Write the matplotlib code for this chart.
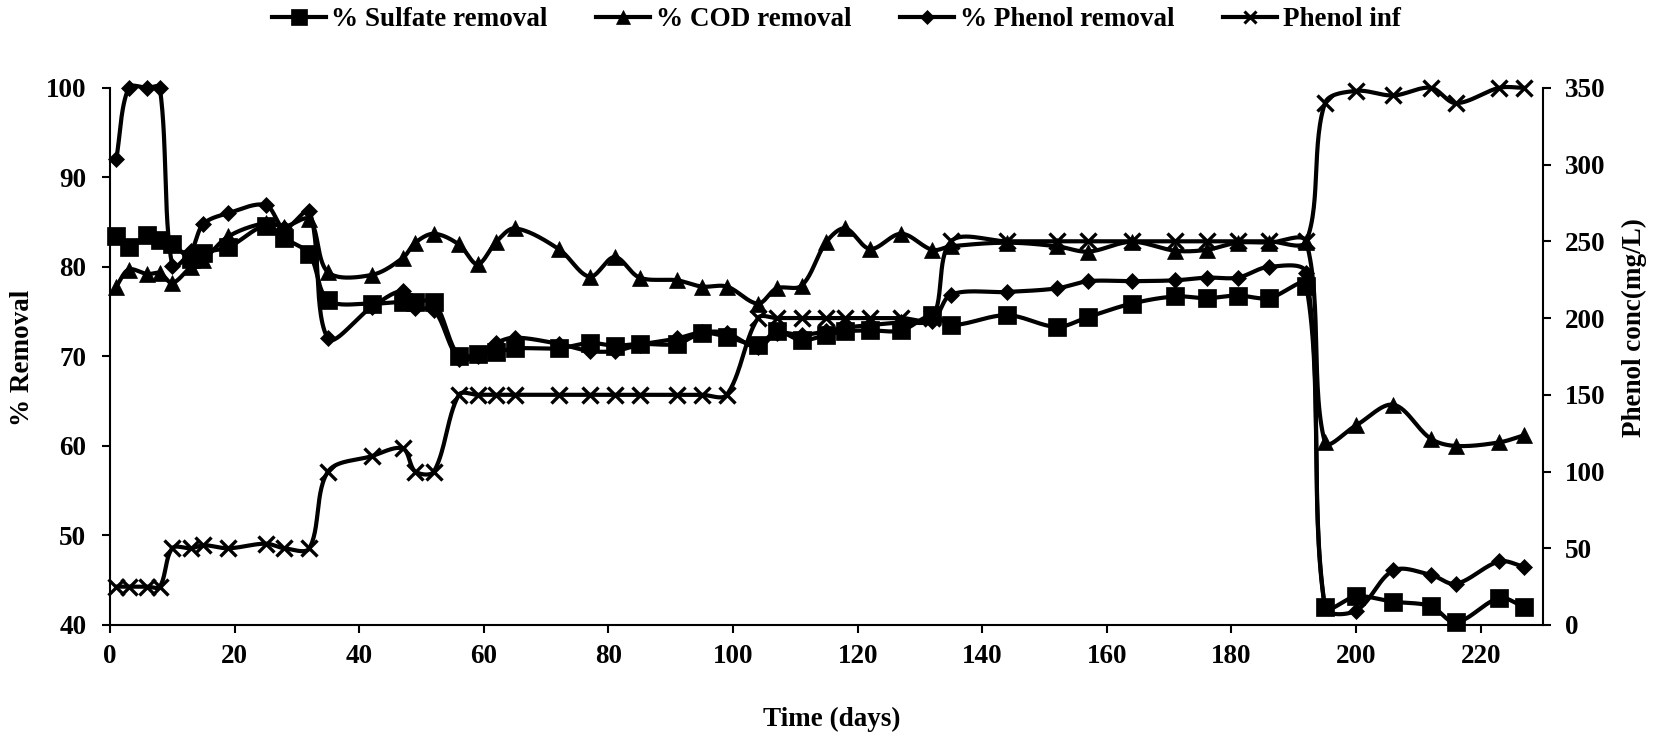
import numpy as np
import matplotlib
matplotlib.use("Agg")
import matplotlib.pyplot as plt
from matplotlib.lines import Line2D

# Sampling days
days = [1, 3, 6, 8, 10, 13, 15, 19, 25, 28, 32, 35, 42, 47, 49, 52, 56, 59, 62, 65,
        72, 77, 81, 85, 91, 95, 99, 104, 107, 111, 115, 118, 122, 127, 132, 135,
        144, 152, 157, 164, 171, 176, 181, 186, 192, 195, 200, 206, 212, 216, 223, 227]

sulfate_removal = [83.5, 82.2, 83.6, 83.0, 82.6, 80.9, 81.6, 82.2, 84.6, 83.2, 81.4, 76.3,
                   75.9, 76.1, 76.1, 76.1, 70.0, 70.3, 70.5, 70.9, 70.9, 71.5, 71.2, 71.4,
                   71.4, 72.6, 72.2, 71.3, 72.8, 71.8, 72.4, 72.8, 72.9, 72.9, 74.6, 73.5,
                   74.6, 73.3, 74.4, 75.9, 76.7, 76.5, 76.8, 76.5, 77.9, 42.0, 43.2, 42.6,
                   42.1, 40.3, 43.0, 42.0]

cod_removal = [77.8, 79.7, 79.2, 79.3, 78.2, 80.0, 80.8, 83.4, 84.9, 84.5, 85.3, 79.4,
               79.1, 81.0, 82.7, 83.7, 82.5, 80.3, 82.8, 84.3, 82.0, 78.9, 81.1, 78.8,
               78.5, 77.8, 77.8, 75.9, 77.6, 77.9, 82.8, 84.3, 82.0, 83.7, 81.9, 82.3,
               82.7, 82.3, 81.7, 82.8, 81.8, 81.9, 82.7, 82.7, 82.8, 60.4, 62.3, 64.6,
               60.8, 60.0, 60.4, 61.2]

phenol_removal = [92.0, 100.0, 100.0, 100.0, 80.1, 81.8, 84.8, 86.0, 86.9, 84.3, 86.2, 72.0,
                  75.5, 77.3, 75.4, 75.2, 69.7, 70.1, 71.5, 72.1, 71.4, 70.6, 70.6, 71.3,
                  72.0, 72.7, 72.6, 71.0, 72.6, 72.4, 72.8, 73.2, 73.5, 73.8, 74.0, 76.9,
                  77.2, 77.6, 78.4, 78.4, 78.5, 78.8, 78.8, 80.0, 79.3, 42.0, 41.6, 46.1,
                  45.6, 44.6, 47.1, 46.5]

phenol_inf = [25, 25, 25, 25, 50, 50, 52, 50, 53, 50, 50, 100, 110, 115, 100, 100,
              150, 150, 150, 150, 150, 150, 150, 150, 150, 150, 150, 200, 200, 200, 200,
              200, 200, 200, 200, 250, 250, 250, 250, 250, 250, 250, 250, 250, 250,
              340, 348, 345, 350, 340, 350, 350]

x_ticks = list(range(0, 221, 20))
left_ticks = [40, 50, 60, 70, 80, 90, 100]
right_ticks = [0, 50, 100, 150, 200, 250, 300, 350]


def smooth(ax, xs, ys, n=30):
    """Bezier smoothing through every point, with handles weighted by
    the on-screen length of the neighbouring segments."""
    p_data = np.column_stack([xs, ys]).astype(float)
    p = ax.transData.transform(p_data)
    pts = np.vstack([p[0], p, p[-1]])
    d = np.r_[0.0, np.hypot(*np.diff(pts, axis=0).T)]
    out = [p[:1]]
    t = np.linspace(0, 1, n + 1)[1:, None]
    for i in range(1, len(pts) - 2):
        p0, p1, p2, p3 = pts[i - 1], pts[i], pts[i + 1], pts[i + 2]
        d01, d12, d23 = d[i], d[i + 1], d[i + 2]
        w1 = d12 / (d01 + d12) if d01 + d12 > 0 else 0.5
        w2 = d12 / (d12 + d23) if d12 + d23 > 0 else 0.5
        b1 = p1 + (p2 - p0) * w1 / 3.0
        b2 = p2 - (p3 - p1) * w2 / 3.0
        seg = ((1 - t) ** 3) * p1 + 3 * ((1 - t) ** 2) * t * b1 + 3 * (1 - t) * t ** 2 * b2 + t ** 3 * p2
        out.append(seg)
    c = ax.transData.inverted().transform(np.vstack(out))
    return c[:, 0], c[:, 1]


plt.rcParams["font.family"] = ["Liberation Serif", "DejaVu Serif"]
plt.rcParams["font.weight"] = "bold"
FS = 19.5

fig = plt.figure(figsize=(16.58, 7.37), dpi=100)
ax = fig.add_axes([110 / 1658, 1 - 625 / 737, (1543 - 110) / 1658, (625 - 87.8) / 737])
ax2 = ax.twinx()

ax.set_xlim(0, 230)
ax.set_ylim(40, 100)
ax2.set_xlim(0, 230)
ax2.set_ylim(0, 350)
ax.set_xticks(x_ticks)
ax.set_yticks(left_ticks)
ax2.set_yticks(right_ticks)

LW = 3.0
series = [
    (ax, sulfate_removal, "s", 13.0, "% Sulfate removal"),
    (ax, cod_removal, "^", 11.5, "% COD removal"),
    (ax, phenol_removal, "D", 8.5, "% Phenol removal"),
    (ax2, phenol_inf, "x", 11.0, "Phenol inf"),
]
handles = []
for a, ys, mk, ms, lab in series:
    sx, sy = smooth(a, days, ys)
    a.plot(sx, sy, color="black", lw=LW, solid_capstyle="round", clip_on=False, zorder=3)
    a.plot(days, ys, ls="none", marker=mk, ms=ms, color="black", mec="black",
           mew=2.4 if mk == "x" else 0.5, clip_on=False, zorder=4)
    handles.append(Line2D([], [], color="black", lw=LW, marker=mk,
                          ms=ms * 0.85, mew=2.2 if mk == "x" else 0.5, label=lab))

for a in (ax, ax2):
    a.spines["top"].set_visible(False)
    for s in a.spines.values():
        s.set_linewidth(1.5)
ax.spines["right"].set_visible(False)
ax2.spines["left"].set_visible(False)
ax2.spines["bottom"].set_visible(False)

ax.tick_params(axis="x", length=6, width=1.5, pad=8, labelsize=FS)
ax.tick_params(axis="y", length=6, width=1.5, pad=11, labelsize=FS)
ax2.tick_params(axis="y", length=6, width=1.5, pad=10, labelsize=FS)
for lbl in ax.get_xticklabels() + ax.get_yticklabels() + ax2.get_yticklabels():
    lbl.set_fontweight("bold")

fig.text(23 / 1658, 0.515, "% Removal", rotation=90, ha="center", va="center",
         fontsize=FS, fontweight="bold")
fig.text(1634 / 1658, 0.555, "Phenol conc(mg/L)", rotation=90, ha="center", va="center",
         fontsize=FS, fontweight="bold")
fig.text(832 / 1658, 1 - 726.5 / 737, "Time (days)", ha="center", va="baseline",
         fontsize=FS, fontweight="bold")

fig.legend(handles=handles, loc="center", bbox_to_anchor=(836 / 1658, 1 - 20 / 737),
           ncol=4, frameon=False, handlelength=2.0, handletextpad=0.2,
           columnspacing=1.8, prop={"weight": "bold", "size": FS})

fig.savefig("out.png", dpi=100)
